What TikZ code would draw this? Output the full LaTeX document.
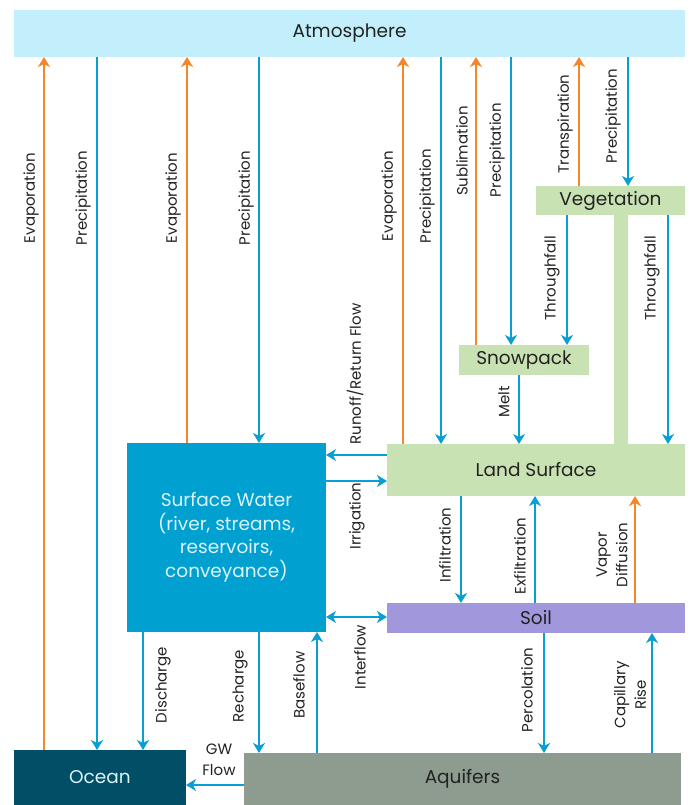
\documentclass[tikz,border=0pt]{standalone}
\usepackage{fontspec}
\setmainfont{Poppins}
\usetikzlibrary{arrows.meta}
\definecolor{atmc}{HTML}{C3EFFC}
\definecolor{grc}{HTML}{C9E2B4}
\definecolor{swc}{HTML}{00A0D1}
\definecolor{soilc}{HTML}{A097DD}
\definecolor{oceanc}{HTML}{004F66}
\definecolor{aqc}{HTML}{8E9B8F}
\definecolor{bluec}{HTML}{0A9FD3}
\definecolor{orc}{HTML}{F5862A}
\definecolor{txtc}{HTML}{222222}
\definecolor{lightt}{HTML}{DDF3FA}
\begin{document}
\begin{tikzpicture}[x=1pt,y=-1pt,
  box/.style={draw=none, inner sep=0pt, outer sep=0pt, align=center, text=txtc,
    font=\fontsize{18.5}{23.5}\selectfont},
  wflow/.style={draw=bluec, line width=2.5pt, -{Stealth[length=10pt,width=12pt,inset=3pt]}},
  vflow/.style={draw=orc, line width=2.5pt, -{Stealth[length=10pt,width=12pt,inset=3pt]}},
  dflow/.style={draw=bluec, line width=2.5pt, {Stealth[length=10pt,width=12pt,inset=3pt]}-{Stealth[length=10pt,width=12pt,inset=3pt]}},
  lab/.style={rotate=90, inner sep=0pt, align=center, text=txtc, font=\fontsize{15}{20.5}\selectfont},
  hlab/.style={inner sep=0pt, align=center, text=txtc, font=\fontsize{15}{20.5}\selectfont}]
\useasboundingbox (0,0) rectangle (690,805);

% boxes
\node[box, fill=atmc, minimum width=671pt, minimum height=47pt] (atm) at (349.5,33.5) {\raisebox{-2pt}{Atmosphere}};
\node[box, fill=grc, minimum width=14pt, minimum height=229pt] (stem) at (621,329.5) {};
\node[box, fill=grc, minimum width=149pt, minimum height=29pt] (veg) at (610.5,200.5) {\raisebox{-1pt}{Vegetation}};
\node[box, fill=grc, minimum width=130pt, minimum height=30pt] (snow) at (524,360) {\raisebox{-1pt}{Snowpack}};
\node[box, fill=grc, minimum width=298pt, minimum height=52pt] (land) at (536,470) {\raisebox{-1pt}{Land Surface}};
\node[box, fill=swc, text=lightt, minimum width=199pt, minimum height=189pt] (sw) at (226.5,537.5) {Surface Water\\(river, streams,\\reservoirs,\\conveyance)};
\node[box, fill=soilc, minimum width=298pt, minimum height=30pt] (soil) at (536,618) {\raisebox{-1pt}{Soil}};
\node[box, fill=oceanc, text=lightt, minimum width=172pt, minimum height=55pt] (ocean) at (100,777.5) {\raisebox{-1pt}{Ocean}};
\node[box, fill=aqc, minimum width=437pt, minimum height=52pt] (aq) at (462.5,779) {\raisebox{-2pt}{Aquifers}};

% x guides
\coordinate (xa) at (44,0);
\coordinate (xb) at (97,0);
\coordinate (xc) at (187,0);
\coordinate (xd) at (259,0);
\coordinate (xe) at (403,0);
\coordinate (xf) at (441,0);
\coordinate (xg) at (476,0);
\coordinate (xh) at (511,0);
\coordinate (xi) at (579,0);
\coordinate (xj) at (628,0);
\coordinate (xk) at (567,0);
\coordinate (xl) at (668,0);
\coordinate (xm) at (519,0);
\coordinate (xn) at (461,0);
\coordinate (xo) at (535,0);
\coordinate (xp) at (635,0);
\coordinate (xq) at (544,0);
\coordinate (xr) at (652,0);
\coordinate (xs) at (143,0);
\coordinate (xt) at (259,0);
\coordinate (xu) at (317,0);
% y guides
\coordinate (ya) at (0,455);
\coordinate (yb) at (0,481);
\coordinate (yc) at (0,617);
\coordinate (yd) at (0,785);

% atmosphere exchanges
\draw[vflow] (ocean.north -| xa) -- (atm.south -| xa);
\draw[wflow] (atm.south -| xb) -- (ocean.north -| xb);
\draw[vflow] (sw.north -| xc) -- (atm.south -| xc);
\draw[wflow] (atm.south -| xd) -- (sw.north -| xd);
\draw[vflow] (land.north -| xe) -- (atm.south -| xe);
\draw[wflow] (atm.south -| xf) -- (land.north -| xf);
\draw[vflow] (snow.north -| xg) -- (atm.south -| xg);
\draw[wflow] (atm.south -| xh) -- (snow.north -| xh);
\draw[vflow] (veg.north -| xi) -- (atm.south -| xi);
\draw[wflow] (atm.south -| xj) -- (veg.north -| xj);
% vegetation / snow / land
\draw[wflow] (veg.south -| xk) -- (snow.north -| xk);
\draw[wflow] (veg.south -| xl) -- (land.north -| xl);
\draw[wflow] (snow.south -| xm) -- (land.north -| xm);
% land <-> surface water
\draw[wflow] (land.west |- ya) -- (sw.east |- ya);
\draw[wflow] (sw.east |- yb) -- (land.west |- yb);
\draw[dflow] (sw.east |- yc) -- (soil.west |- yc);
% land <-> soil
\draw[wflow] (land.south -| xn) -- (soil.north -| xn);
\draw[wflow] (soil.north -| xo) -- (land.south -| xo);
\draw[vflow] (soil.north -| xp) -- (land.south -| xp);
% soil <-> aquifers
\draw[wflow] (soil.south -| xq) -- (aq.north -| xq);
\draw[wflow] (aq.north -| xr) -- (soil.south -| xr);
% surface water <-> ocean/aquifers
\draw[wflow] (sw.south -| xs) -- (ocean.north -| xs);
\draw[wflow] (sw.south -| xt) -- (aq.north -| xt);
\draw[wflow] (aq.north -| xu) -- (sw.south -| xu);
\draw[wflow] (aq.west |- yd) -- (ocean.east |- yd);

% labels
\node[lab] (l1) at (31,198) {Evaporation};
\node[lab] (l2) at (83,198) {Precipitation};
\node[lab] (l3) at (173,198) {Evaporation};
\node[lab] (l4) at (246,198) {Precipitation};
\node[lab] (l5) at (389,196) {Evaporation};
\node[lab] (l6) at (427,196) {Precipitation};
\node[lab] (l7) at (462,151) {Sublimation};
\node[lab] (l8) at (497,150) {Precipitation};
\node[lab] (l9) at (565,124) {Transpiration};
\node[lab] (l10) at (613,116) {Precipitation};
\node[lab] (l11) at (552,278) {Throughfall};
\node[lab] (l12) at (652,278) {Throughfall};
\node[lab] (l13) at (355,374) {Runoff/Return Flow};
\node[lab] (l14) at (504,402) {Melt};
\node[lab] (l15) at (357,516) {Irrigation};
\node[lab] (l16) at (360,657) {Interflow};
\node[lab] (l17) at (445,545) {Infiltration};
\node[lab] (l18) at (520,556) {Exfiltration};
\node[lab] (l19) at (612,555) {Vapor\\Diffusion};
\node[lab] (l20) at (527,690) {Percolation};
\node[lab] (l21) at (630,695) {Capillary\\Rise};
\node[lab] (l22) at (163,685) {Discharge};
\node[lab] (l23) at (240,686) {Recharge};
\node[lab] (l24) at (299,685) {Baseflow};
\node[hlab] (l25) at (219,760) {GW\\Flow};
\end{tikzpicture}
\end{document}
